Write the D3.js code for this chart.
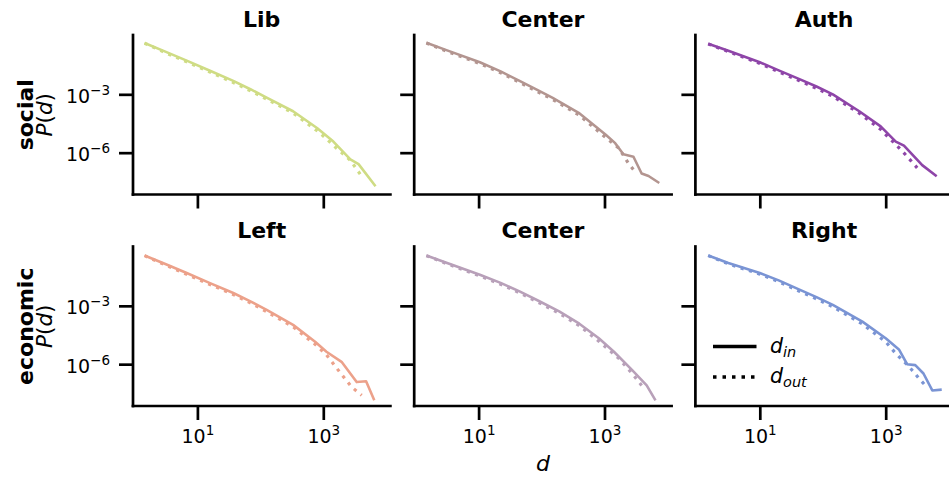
<!DOCTYPE html>
<html>
<head>
<meta charset="utf-8">
<script src="https://cdn.jsdelivr.net/npm/d3@7"></script>
<style>
  body { margin: 0; background: #fff; }
  svg { display: block; }
  text { font-family: "DejaVu Sans", sans-serif; fill: #000; }
</style>
</head>
<body>
<svg id="chart" width="949" height="478"></svg>
<script>
// Degree distributions P(d); every point is [log10 d, log10 P(d)].
const socialLibIn = [[0.16,-0.36],[0.5,-0.82],[0.83,-1.27],[1.2,-1.79],[1.57,-2.31],[1.85,-2.75],[2.1,-3.17],[2.52,-3.87],[2.9,-4.73],[3.16,-5.43],[3.43,-6.34],[3.56,-6.59],[3.83,-7.73]];
const socialLibOut = [[0.16,-0.37],[0.5,-0.87],[0.83,-1.33],[1.2,-1.86],[1.57,-2.39],[1.85,-2.83],[2.1,-3.25],[2.52,-3.96],[2.95,-4.99],[3.21,-5.77],[3.43,-6.39],[3.61,-7.21]];

const socialCenterIn = [[0.17,-0.35],[0.5,-0.74],[1.02,-1.35],[1.35,-1.82],[1.65,-2.31],[1.9,-2.72],[2.17,-3.17],[2.59,-3.95],[3.02,-5.08],[3.17,-5.51],[3.3,-6.08],[3.46,-6.21],[3.59,-7.07],[3.7,-7.2],[3.87,-7.56]];
const socialCenterOut = [[0.17,-0.36],[0.5,-0.79],[1.02,-1.42],[1.35,-1.89],[1.65,-2.38],[1.9,-2.8],[2.17,-3.25],[2.59,-4.05],[3.02,-5.22],[3.23,-5.77],[3.38,-6.55],[3.49,-6.99]];

const socialAuthIn = [[0.18,-0.4],[0.5,-0.76],[1.0,-1.35],[1.3,-1.77],[1.63,-2.22],[1.9,-2.6],[2.16,-3.0],[2.58,-3.87],[2.92,-4.65],[3.16,-5.43],[3.29,-5.64],[3.58,-6.64],[3.81,-7.21]];
const socialAuthOut = [[0.18,-0.41],[0.5,-0.8],[1.0,-1.41],[1.3,-1.84],[1.63,-2.3],[1.9,-2.69],[2.16,-3.1],[2.58,-3.97],[2.92,-4.8],[3.03,-5.17],[3.13,-5.48],[3.32,-6.12],[3.5,-6.78]];

const economicLeftIn = [[0.16,-0.41],[0.5,-0.86],[0.83,-1.31],[1.2,-1.83],[1.57,-2.34],[1.85,-2.78],[2.1,-3.21],[2.52,-3.98],[2.87,-4.85],[3.05,-5.36],[3.29,-5.88],[3.53,-6.92],[3.68,-6.88],[3.81,-7.86]];
const economicLeftOut = [[0.16,-0.42],[0.5,-0.91],[0.83,-1.38],[1.2,-1.9],[1.57,-2.42],[1.85,-2.86],[2.1,-3.3],[2.52,-4.08],[2.87,-4.98],[3.05,-5.52],[3.26,-6.4],[3.45,-7.17],[3.61,-7.6]];

const economicCenterIn = [[0.17,-0.41],[0.5,-0.8],[1.02,-1.4],[1.35,-1.82],[1.65,-2.26],[1.95,-2.74],[2.28,-3.29],[2.6,-3.92],[2.91,-4.67],[3.15,-5.36],[3.44,-6.31],[3.67,-7.09],[3.81,-7.86]];
const economicCenterOut = [[0.17,-0.42],[0.5,-0.84],[1.02,-1.46],[1.35,-1.89],[1.65,-2.33],[1.95,-2.82],[2.28,-3.38],[2.6,-4.02],[2.91,-4.82],[3.23,-5.71],[3.44,-6.48],[3.59,-7.09]];

const economicRightIn = [[0.18,-0.41],[0.5,-0.8],[1.0,-1.31],[1.3,-1.69],[1.63,-2.17],[1.9,-2.55],[2.16,-2.95],[2.63,-3.81],[3.0,-4.67],[3.21,-5.24],[3.34,-6.0],[3.47,-6.05],[3.6,-6.48],[3.74,-7.35],[3.89,-7.31]];
const economicRightOut = [[0.18,-0.42],[0.5,-0.84],[1.0,-1.37],[1.3,-1.76],[1.63,-2.25],[1.9,-2.64],[2.16,-3.05],[2.63,-3.93],[3.0,-4.85],[3.16,-5.45],[3.32,-5.96],[3.42,-6.31],[3.53,-6.74],[3.63,-7.09]];

const rowNames = ["social", "economic"];
const columnTitles = [["Lib", "Center", "Auth"], ["Left", "Center", "Right"]];
const xTickExponents = [1, 3];
const yTickExponents = [-3, -6];
const legendLabels = [["d", "in"], ["d", "out"]];

const panels = [
  { row: 0, col: 0, din: socialLibIn,      dout: socialLibOut,      color: "#cfdc84" },
  { row: 0, col: 1, din: socialCenterIn,   dout: socialCenterOut,   color: "#b39590" },
  { row: 0, col: 2, din: socialAuthIn,     dout: socialAuthOut,     color: "#8e45a8" },
  { row: 1, col: 0, din: economicLeftIn,   dout: economicLeftOut,   color: "#eca18a" },
  { row: 1, col: 1, din: economicCenterIn, dout: economicCenterOut, color: "#b8a0b9" },
  { row: 1, col: 2, din: economicRightIn,  dout: economicRightOut,  color: "#7a94d4" }
];

// Layout
const left0 = 133, colPitch = 281.2, plotW = 257.4;
const top0 = 35, rowPitch = 211.5, plotH = 159.5;
const spineW = 2.7, tickLen = 14;
const tickFont = 19, supFont = 13.5, titleFont = 22, labelFont = 21.5;

const x = d3.scaleLog().domain([10 ** -0.023, 10 ** 4.066]).range([0, plotW]);
const y = d3.scaleLog().domain([10 ** -8.15, 10 ** 0.05]).range([plotH, 0]);

const svg = d3.select("#chart");

const line = d3.line()
  .x(p => x(10 ** p[0]))
  .y(p => y(10 ** p[1]));

function powerLabel(textSel, exponent) {
  textSel.text(null);
  textSel.append("tspan").text("10");
  textSel.append("tspan")
    .attr("font-size", supFont)
    .attr("dy", -8)
    .text(String(exponent).replace("-", "\u2212"));
}

panels.forEach(p => {
  const g = svg.append("g")
    .attr("transform", `translate(${left0 + p.col * colPitch},${top0 + p.row * rowPitch})`);

  // data lines
  g.append("path").datum(p.din)
    .attr("fill", "none").attr("stroke", p.color)
    .attr("stroke-width", 2.6).attr("stroke-linejoin", "round")
    .attr("d", line);
  g.append("path").datum(p.dout)
    .attr("fill", "none").attr("stroke", p.color)
    .attr("stroke-width", 3.2).attr("stroke-dasharray", "3.2,5.5")
    .attr("d", line);

  // x axis ticks
  const xAxis = d3.axisBottom(x)
    .tickValues(xTickExponents.map(e => 10 ** e))
    .tickSize(tickLen).tickSizeOuter(0)
    .tickFormat(() => "");
  const gx = g.append("g").attr("transform", `translate(0,${plotH})`).call(xAxis);
  gx.select(".domain").remove();
  gx.selectAll(".tick line").attr("stroke", "#000").attr("stroke-width", spineW);
  gx.selectAll(".tick text").remove();
  if (p.row === 1) {
    gx.selectAll(".tick").each(function (d, i) {
      const t = d3.select(this).append("text")
        .attr("y", 37.3).attr("text-anchor", "middle")
        .attr("font-size", tickFont);
      powerLabel(t, xTickExponents[i]);
    });
  }

  // y axis ticks
  const yAxis = d3.axisLeft(y)
    .tickValues(yTickExponents.map(e => 10 ** e))
    .tickSize(tickLen).tickSizeOuter(0)
    .tickFormat(() => "");
  const gy = g.append("g").call(yAxis);
  gy.select(".domain").remove();
  gy.selectAll(".tick line").attr("stroke", "#000").attr("stroke-width", spineW);
  gy.selectAll(".tick text").remove();
  if (p.col === 0) {
    gy.selectAll(".tick").each(function (d, i) {
      const t = d3.select(this).append("text")
        .attr("x", -tickLen - 9).attr("y", 8).attr("text-anchor", "end")
        .attr("font-size", tickFont);
      powerLabel(t, yTickExponents[i]);
    });
  }

  // spines
  g.append("line").attr("x1", 0).attr("x2", 0).attr("y1", 0).attr("y2", plotH)
    .attr("stroke", "#000").attr("stroke-width", spineW).attr("stroke-linecap", "square");
  g.append("line").attr("x1", 0).attr("x2", plotW).attr("y1", plotH).attr("y2", plotH)
    .attr("stroke", "#000").attr("stroke-width", spineW).attr("stroke-linecap", "square");

  // title
  g.append("text")
    .attr("x", plotW / 2).attr("y", -8.3)
    .attr("text-anchor", "middle")
    .attr("font-size", titleFont).attr("font-weight", "bold")
    .text(columnTitles[p.row][p.col]);
});

// row labels: group name in bold, then P(d)
rowNames.forEach((name, r) => {
  const cy = top0 + r * rowPitch + plotH / 2;
  svg.append("text")
    .attr("transform", `translate(33,${cy}) rotate(-90)`)
    .attr("text-anchor", "middle")
    .attr("font-size", 22).attr("font-weight", "bold")
    .text(name);
  const t = svg.append("text")
    .attr("transform", `translate(52,${cy}) rotate(-90)`)
    .attr("text-anchor", "middle")
    .attr("font-size", labelFont);
  t.append("tspan").attr("font-style", "italic").text("P");
  t.append("tspan").text("(");
  t.append("tspan").attr("font-style", "italic").text("d");
  t.append("tspan").text(")");
});

// shared x label
svg.append("text")
  .attr("x", left0 + colPitch + plotW / 2).attr("y", 471)
  .attr("text-anchor", "middle")
  .attr("font-size", 22).attr("font-style", "italic")
  .text("d");

// legend in the lower-right panel
const legend = svg.append("g").attr("transform", "translate(713,346.5)");
legendLabels.forEach((lab, i) => {
  const gy = i * 30.5;
  legend.append("line")
    .attr("x1", 0).attr("x2", 43.5).attr("y1", gy).attr("y2", gy)
    .attr("stroke", "#000").attr("stroke-width", 3.5)
    .attr("stroke-dasharray", i === 0 ? null : "3.5,6");
  const t = legend.append("text")
    .attr("x", 57).attr("y", gy + 6)
    .attr("font-size", 20.5).attr("font-style", "italic");
  t.append("tspan").text(lab[0]);
  t.append("tspan").attr("font-size", 14.5).attr("dy", 4).text(lab[1]);
});
</script>
</body>
</html>
